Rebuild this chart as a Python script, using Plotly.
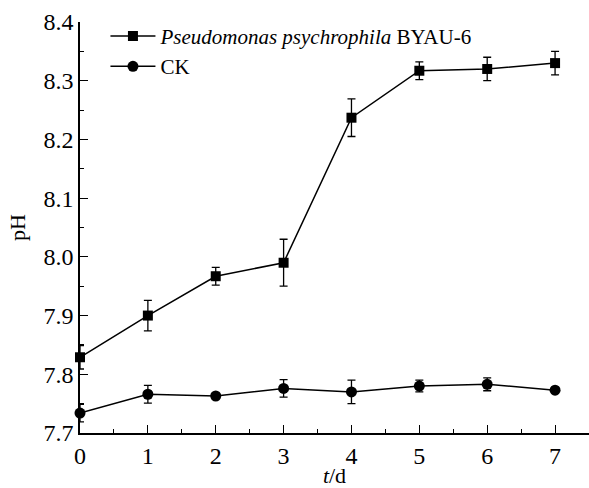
import plotly.graph_objects as go

days = [0, 1, 2, 3, 4, 5, 6, 7]
pseudo_ph = [7.829, 7.900, 7.967, 7.990, 8.237, 8.317, 8.320, 8.330]
pseudo_err = [0.020, 0.026, 0.015, 0.040, 0.032, 0.015, 0.020, 0.020]
ck_ph = [7.734, 7.766, 7.763, 7.776, 7.770, 7.780, 7.783, 7.773]
ck_err = [0.015, 0.015, 0.0, 0.015, 0.020, 0.010, 0.011, 0.004]

FONT = "Liberation Serif"

fig = go.Figure()
fig.add_trace(go.Scatter(
    x=days, y=pseudo_ph, mode="lines+markers",
    name="<i>Pseudomonas psychrophila</i> BYAU-6",
    line=dict(color="black", width=1.5),
    marker=dict(symbol="square", size=10, color="black"),
    error_y=dict(type="data", array=pseudo_err, visible=True, color="black", thickness=1.3, width=4),
    cliponaxis=False,
))
fig.add_trace(go.Scatter(
    x=days, y=ck_ph, mode="lines+markers",
    name="CK",
    line=dict(color="black", width=1.5),
    marker=dict(symbol="circle", size=11, color="black"),
    error_y=dict(type="data", array=ck_err, visible=True, color="black", thickness=1.3, width=4),
    cliponaxis=False,
))

fig.update_layout(
    width=589, height=488,
    margin=dict(l=80, r=0, t=22, b=55),
    paper_bgcolor="white", plot_bgcolor="white",
    font=dict(family=FONT, size=20, color="black"),
    showlegend=True,
    legend=dict(x=0.05, y=1.015, xanchor="left", yanchor="top",
                bgcolor="rgba(0,0,0,0)", font=dict(family=FONT, size=21),
                itemwidth=45, tracegroupgap=0),
    xaxis=dict(
        range=[0, 7.5], tickmode="array", tickvals=days, ticktext=[str(d) for d in days],
        ticks="inside", ticklen=8, tickwidth=1.3, tickcolor="black",
        minor=dict(tickmode="array", tickvals=[0.5, 1.5, 2.5, 3.5, 4.5, 5.5, 6.5, 7.5],
                   ticks="inside", ticklen=4, tickwidth=1.3, tickcolor="black"),
        showline=True, linecolor="black", linewidth=1.5,
        showgrid=False, zeroline=False,
        tickfont=dict(family=FONT, size=24),
        title=dict(text="<i>t</i>/d", font=dict(family=FONT, size=22), standoff=0),
    ),
    yaxis=dict(
        range=[7.7, 8.4], tickmode="linear", tick0=7.7, dtick=0.1, tickformat=".1f",
        ticks="inside", ticklen=8, tickwidth=1.3, tickcolor="black",
        minor=dict(tickmode="linear", tick0=7.75, dtick=0.1,
                   ticks="inside", ticklen=4, tickwidth=1.3, tickcolor="black"),
        showline=True, linecolor="black", linewidth=1.5,
        showgrid=False, zeroline=False,
        tickfont=dict(family=FONT, size=24),
        title=dict(text="pH", font=dict(family=FONT, size=22), standoff=12),
    ),
)

fig.write_html("out.html")
